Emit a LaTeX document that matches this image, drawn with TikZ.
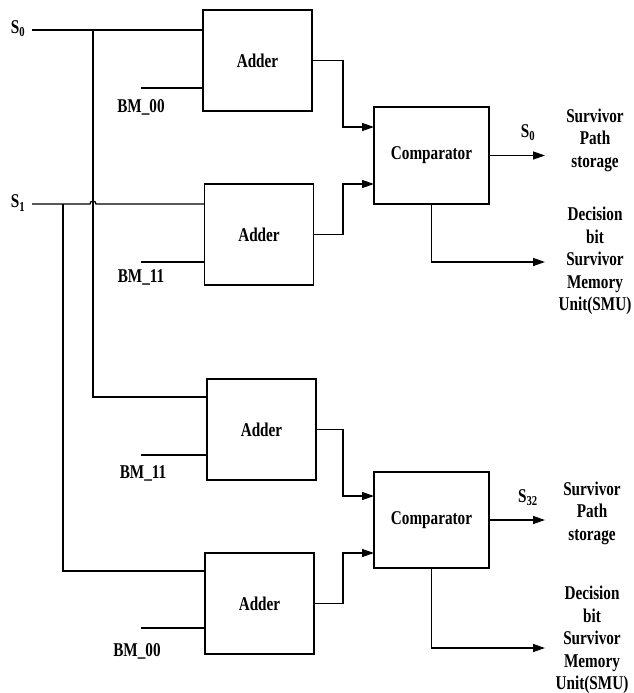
\documentclass[tikz,border=0pt]{standalone}
\usepackage{fontspec}
\setmainfont[FakeStretch=0.78]{Liberation Serif}
\usetikzlibrary{arrows.meta}
\begin{document}
\begin{tikzpicture}[x=1pt,y=-1pt,
  line width=1.3pt,
  lbl/.style={font=\fontsize{19.5}{22.5}\selectfont\bfseries, inner sep=0pt, align=center},
  blk/.style={draw, line width=1.3pt, minimum width=109pt, minimum height=101pt, inner sep=0pt, font=\fontsize{19.5}{22.5}\selectfont\bfseries},
  cmp/.style={draw, line width=1.3pt, minimum width=115pt, minimum height=97pt, inner sep=0pt, font=\fontsize{19.5}{22.5}\selectfont\bfseries},
  arr/.style={-{Triangle[length=12pt,width=8pt]}}]
\useasboundingbox (0,0) rectangle (633,693);

% blocks
\node[blk] (A1) at (257.5,60.5) {Adder};
\node[blk] (A2) at (259,234.5) {Adder};
\node[blk] (A3) at (261.5,429.5) {Adder};
\node[blk] (A4) at (259.5,603.5) {Adder};
\node[cmp] (C1) at (431.5,155.5) {Comparator};
\node[cmp, minimum height=96pt] (C2) at (431.5,520) {Comparator};

% input labels
\node[lbl] (s0) at (18,29) {S\textsubscript{0}};
\node[lbl] (s1) at (18,203) {S\textsubscript{1}};
\node[lbl] (bm1) at (141,107) {BM\_00};
\node[lbl] (bm2) at (141,277) {BM\_11};
\node[lbl] (bm3) at (143,473) {BM\_11};
\node[lbl] (bm4) at (137,651) {BM\_00};

% input coordinates
\coordinate (s0a) at (32,30);
\coordinate (s1a) at (32,204);
\coordinate (j0) at (93,30);
\coordinate (j1) at (63,204);
\coordinate (b1) at (141,88);
\coordinate (b2) at (141,262);
\coordinate (b3) at (141,455);
\coordinate (b4) at (141,628);
\coordinate (i3) at (93,397);
\coordinate (i4) at (63,571);

% S0 bus
\draw (s0a) -- (s0a -| A1.west);
\draw (j0) -- (i3) -- (i3 -| A3.west);
% S1 bus with hop over the S0 vertical
\draw (s1a) -- (90,204) arc[start angle=180, end angle=0, radius=3pt] -- (s1a -| A2.west);
\draw (j1) -- (i4) -- (i4 -| A4.west);
% branch metrics
\draw (b1) -- (b1 -| A1.west);
\draw (b2) -- (b2 -| A2.west);
\draw (b3) -- (b3 -| A3.west);
\draw (b4) -- (b4 -| A4.west);

% adder to comparator
\coordinate (c1t) at (374,127);
\coordinate (c1b) at (374,184);
\coordinate (c2t) at (374,496);
\coordinate (c2b) at (374,553);
\draw[arr] (A1.east) -| (343,127) -- (c1t);
\draw[arr] (A2.east) -| (343,184) -- (c1b);
\draw[arr] (A3.east) -| (343,496) -- (c2t);
\draw[arr] (A4.east) -| (343,553) -- (c2b);

% outputs
\coordinate (o1) at (545,155.5);
\coordinate (d1) at (545,262);
\coordinate (o2) at (545,520);
\coordinate (d2) at (545,648);
\draw[arr] (C1.east) -- (o1);
\draw[arr] (C1.south) |- (d1);
\draw[arr] (C2.east) -- (o2);
\draw[arr] (C2.south) |- (d2);

% output labels
\node[lbl] (t0) at (528,133) {S\textsubscript{0}};
\node[lbl] (t32) at (528,498) {S\textsubscript{32}};
\node[lbl] (sp1) at (595,140) {Survivor\\Path\\storage};
\node[lbl] (db1) at (595,261) {Decision\\bit\\Survivor\\Memory\\Unit(SMU)};
\node[lbl] (sp2) at (592,513) {Survivor\\Path\\storage};
\node[lbl] (db2) at (592,640) {Decision\\bit\\Survivor\\Memory\\Unit(SMU)};
\end{tikzpicture}
\end{document}
